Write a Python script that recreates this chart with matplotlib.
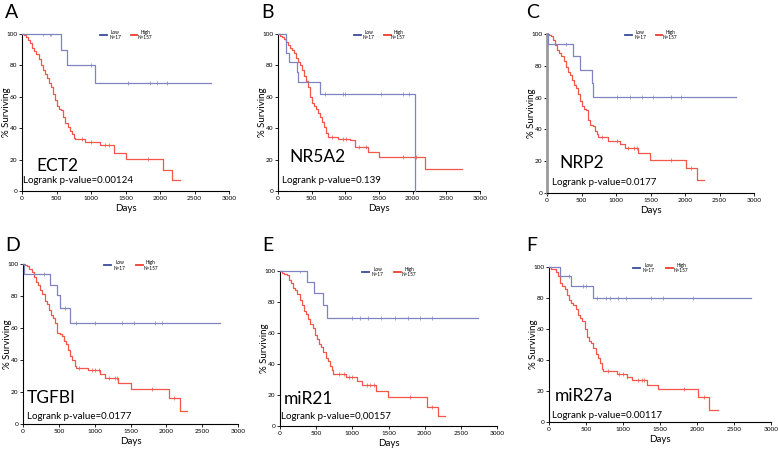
import numpy as np
import matplotlib
matplotlib.use("Agg")
import matplotlib.pyplot as plt

plt.rcParams['font.family'] = ['Lato', 'DejaVu Sans']

W, H = 778, 451

panel_letters = ["A", "B", "C", "D", "E", "F"]
gene_names = ["ECT2", "NR5A2", "NRP2", "TGFBI", "miR21", "miR27a"]
pvalue_texts = ["Logrank p-value=0.00124", "Logrank p-value=0.139", "Logrank p-value=0.0177",
                "Logrank p-value=0.0177", "Logrank p-value=0,00157", "Logrank p-value=0.00117"]
legend_low = ["Low", "N=17"]
legend_high = ["High", "N=157"]
x_ticks = [0, 500, 1000, 1500, 2000, 2500, 3000]
y_ticks = [0, 20, 40, 60, 80, 100]

# Low-expression group (N=17): step times / survival (%)
low_A_t = [0, 570, 650, 1060, 2740]
low_A_s = [100, 89.5, 80, 68.5, 68.5]
low_A_c = [300, 400, 420, 1000, 1540, 1860, 1950, 2100]
low_B_t = [0, 125, 165, 280, 300, 620, 2030]
low_B_s = [100, 88, 82, 76, 69.5, 61.6, 0]
low_B_c = [700, 960, 1000, 1530, 1860, 1950]
low_C_t = [0, 15, 375, 480, 650, 665, 2735]
low_C_s = [100, 93.5, 86, 77.5, 69, 60.4, 60.4]
low_C_c = [280, 1010, 1200, 1370, 1540, 1790, 1940]
low_D_t = [0, 10, 380, 475, 510, 650, 2745]
low_D_s = [100, 93.5, 87, 80.4, 72.5, 63, 63]
low_D_c = [290, 580, 745, 1005, 1385, 1550, 1840, 1940]
low_E_t = [0, 370, 475, 590, 645, 2740]
low_E_s = [100, 93, 85.6, 78, 70, 70]
low_E_c = [275, 990, 1105, 1220, 1400, 1585, 1770, 1930, 2095]
low_F_t = [0, 155, 303, 597, 2730]
low_F_s = [100, 94, 87.5, 80, 80]
low_F_c = [270, 460, 505, 650, 770, 830, 935, 1040, 1380, 1535, 1945]

# High-expression group (N=157)
high_A_t = [0, 30, 60, 90, 120, 150, 180, 210, 240, 270, 300, 330, 360, 390, 420, 450, 480, 510, 540, 570,
            600, 630, 660, 690, 720, 750, 770, 910, 1130, 1340, 1510, 2040, 2180, 2290]
high_A_s = [100, 99.4, 98, 96, 94, 91, 89, 87, 84, 80, 77, 74.5, 72, 69, 66.5, 62, 58, 54, 52, 51.5,
            47, 43, 41, 38.5, 36, 34, 33.3, 31.5, 29, 24.5, 20.5, 13.5, 6.8, 6.8]
high_A_c = [865, 1000, 1200, 1260, 1830]
high_B_t = [0, 30, 60, 90, 120, 150, 180, 210, 240, 270, 300, 330, 360, 390, 420, 450, 480, 510, 540, 570,
            600, 630, 660, 690, 720, 745, 890, 1070, 1140, 1340, 1500, 2190, 2740]
high_B_s = [100, 99, 98, 96.5, 95, 93, 91, 89.5, 88, 85, 82, 80, 77, 73, 70, 66, 60, 56, 54, 52.5,
            50, 47, 44, 41, 37, 34.5, 33, 32.5, 28, 25, 21.5, 14.2, 14.2]
high_B_c = [800, 960, 1010, 1200, 1300, 1860, 2050]
high_C_t = [0, 30, 60, 90, 120, 150, 180, 210, 240, 270, 300, 330, 360, 390, 420, 450, 480, 510, 540, 570,
            600, 630, 660, 690, 720, 745, 890, 1060, 1130, 1325, 1490, 2010, 2167, 2277]
high_C_s = [100, 99.5, 98.5, 96, 93, 90, 88, 86, 83, 79, 76, 74, 71, 68, 66, 62, 58, 55, 53, 52,
            46, 43, 42, 39, 37, 35, 33, 31, 28.5, 25, 21, 16, 8, 8]
high_C_c = [800, 1010, 1180, 1260, 1300, 1790, 2090]
high_D_t = [0, 30, 60, 90, 120, 150, 180, 210, 240, 270, 300, 330, 360, 390, 420, 450, 480, 510, 540, 570,
            600, 630, 660, 690, 720, 735, 905, 1070, 1140, 1325, 1510, 2037, 2186, 2293]
high_D_s = [100, 99.3, 98.5, 97, 95, 92, 89, 87, 84, 81, 77, 75, 71, 68, 66.5, 63, 57, 56, 55, 52,
            50, 46, 42.5, 40, 36.5, 35.3, 33.5, 31.5, 29, 25.5, 21.7, 16.2, 8, 8]
high_D_c = [780, 960, 1000, 1060, 1200, 1280, 1310, 1800, 2100]
high_E_t = [0, 30, 60, 90, 120, 150, 180, 210, 240, 270, 300, 330, 360, 390, 420, 450, 480, 510, 540, 570,
            600, 630, 660, 690, 720, 735, 910, 1060, 1130, 1325, 1495, 2035, 2186, 2283]
high_E_s = [100, 99, 98, 97.5, 94, 92, 89, 87.5, 85, 81, 78, 74, 72, 69, 66, 63, 59, 56, 53, 51,
            47.5, 44, 42, 39, 36, 33.4, 31.7, 29, 26.7, 22.6, 18.8, 12.5, 6.5, 6.5]
high_E_c = [820, 880, 960, 1000, 1200, 1250, 1300, 1800, 2100]
high_F_t = [0, 30, 60, 90, 120, 150, 180, 210, 240, 270, 300, 330, 360, 390, 420, 450, 480, 510, 540, 570,
            600, 630, 660, 690, 710, 730, 913, 1050, 1115, 1320, 1478, 2020, 2165, 2282]
high_F_s = [100, 99, 98.5, 97, 94, 90, 88, 86, 82, 79, 77, 75.5, 73, 69, 67, 65, 60, 55, 52, 51,
            48, 44, 41, 38, 34, 32.7, 31, 29, 27.1, 24, 21, 16, 8, 8]
high_F_c = [800, 950, 1000, 1050, 1200, 1250, 1280, 1830, 2100]

low_t = [low_A_t, low_B_t, low_C_t, low_D_t, low_E_t, low_F_t]
low_s = [low_A_s, low_B_s, low_C_s, low_D_s, low_E_s, low_F_s]
low_c = [low_A_c, low_B_c, low_C_c, low_D_c, low_E_c, low_F_c]
high_t = [high_A_t, high_B_t, high_C_t, high_D_t, high_E_t, high_F_t]
high_s = [high_A_s, high_B_s, high_C_s, high_D_s, high_E_s, high_F_s]
high_c = [high_A_c, high_B_c, high_C_c, high_D_c, high_E_c, high_F_c]

# layout (pixels): x of day 0, x of day 3000, y of 100 %, y of 0 %
boxes = [(22, 229, 34, 191), (278, 480, 34, 191), (547, 754, 34, 193),
         (23, 238, 264, 424), (280, 497, 271, 426), (549, 771, 267, 422)]
letter_pos = [(5, 13), (261, 13), (526, 13), (5, 246), (262, 246), (526, 246)]
gene_pos = [(213, 16), (163, 21.5), (174, 19), (52, 16), (45, 17.5), (72, 16.5)]
p_pos = [(10, 7), (55, 7), (68, 6.3), (60, 4.8), (10, 6), (36, 4.5)]
ylabel_right_px = [11, 267, 536, 12, 269, 538]

LOW_C = "#7d84c0"
HIGH_C = "#f2574a"
LEG_LOW = "#3c4a9c"
LEG_HIGH = "#ee3b2e"


def surv_at(t, s, x):
    idx = np.searchsorted(np.asarray(t), x, side="right") - 1
    return np.asarray(s)[idx]


fig = plt.figure(figsize=(W / 100, H / 100), dpi=100)
for i in range(6):
    x0, x1, y1, y0 = boxes[i]
    ax = fig.add_axes([x0 / W, 1 - y0 / H, (x1 - x0) / W, (y0 - y1) / H])
    ax.set_xlim(0, 3000)
    ax.set_ylim(0, 100)
    ax.patch.set_alpha(0)
    for sp in ["top", "right"]:
        ax.spines[sp].set_visible(False)
    ax.spines["left"].set_linewidth(0.8)
    ax.spines["bottom"].set_linewidth(0.8)
    if i == 2:
        ax.spines["left"].set_color("#9a9a9a")
        ax.spines["left"].set_linewidth(2.0)
    ax.set_xticks(x_ticks)
    ax.set_yticks(y_ticks)
    ax.tick_params(axis="both", labelsize=4.6, length=2.5, width=0.6, pad=1)
    ax.set_xlabel("Days", fontsize=7, labelpad=2)
    ax.set_ylabel("% Surviving", fontsize=7)
    ax.yaxis.set_label_coords((ylabel_right_px[i] - x0) / (x1 - x0), 0.5)

    # curves
    ax.step(high_t[i], high_s[i], where="post", color=HIGH_C, lw=0.9, clip_on=False, zorder=3)
    ax.step(low_t[i], low_s[i], where="post", color=LOW_C, lw=0.9, clip_on=False, zorder=4)
    hc = high_c[i]
    ax.plot(hc, surv_at(high_t[i], high_s[i], hc), ls="none", marker="|", ms=2.5, mew=0.5, color=HIGH_C, zorder=3)
    lc = low_c[i]
    ax.plot(lc, surv_at(low_t[i], low_s[i], lc), ls="none", marker="|", ms=2.5, mew=0.5, color=LOW_C, zorder=4)

    # legend (drawn manually)
    ax.plot([0.378, 0.41], [0.995, 0.995], transform=ax.transAxes, color=LEG_LOW, lw=1.3, clip_on=False)
    ax.text(0.45, 1.012, legend_low[0], transform=ax.transAxes, fontsize=3.4, ha="center", va="center")
    ax.text(0.45, 0.975, legend_low[1], transform=ax.transAxes, fontsize=3.4, ha="center", va="center")
    ax.plot([0.525, 0.557], [0.995, 0.995], transform=ax.transAxes, color=LEG_HIGH, lw=1.3, clip_on=False)
    ax.text(0.595, 1.012, legend_high[0], transform=ax.transAxes, fontsize=3.4, ha="center", va="center")
    ax.text(0.595, 0.975, legend_high[1], transform=ax.transAxes, fontsize=3.4, ha="center", va="center")

    ax.text(gene_pos[i][0], gene_pos[i][1], gene_names[i], fontsize=12.5, ha="left", va="center")
    ax.text(p_pos[i][0], p_pos[i][1], pvalue_texts[i], fontsize=7, ha="left", va="center")

    lx, ly = letter_pos[i]
    fig.text(lx / W, 1 - ly / H, panel_letters[i], fontsize=14, ha="left", va="center")

fig.savefig("out.png", dpi=100)
